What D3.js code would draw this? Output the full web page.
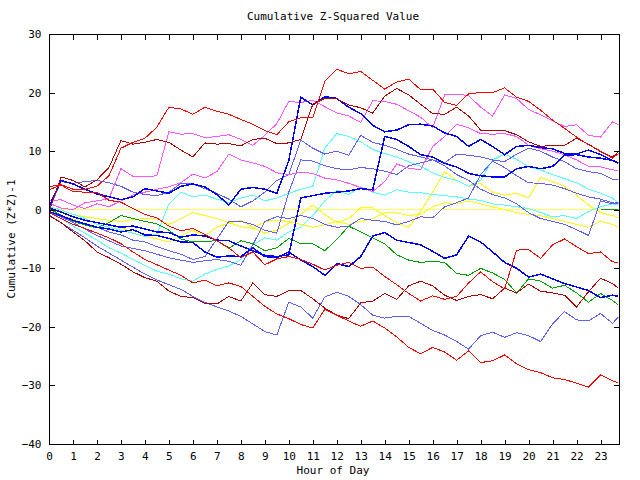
<!DOCTYPE html>
<html><head><meta charset="utf-8">
<script src="https://cdn.jsdelivr.net/npm/d3@7"></script>
<style>body{margin:0;background:#fff}text{font-family:"DejaVu Sans Mono",monospace;font-size:11px}</style>
</head><body><svg id="c" width="640" height="480"></svg>
<script>
const hours = [0,0.5,1,1.5,2,2.5,3,3.5,4,4.5,5,5.5,6,6.5,7,7.5,8,8.5,9,9.5,10,10.5,11,11.5,12,12.5,13,13.5,14,14.5,15,15.5,16,16.5,17,17.5,18,18.5,19,19.5,20,20.5,21,21.5,22,22.5,23,23.5,23.75];
const xTicks = d3.range(0,24);
const yTicks = [30,20,10,0,-10,-20,-30,-40];

const zeroLine = hours.map(()=>0);
const redTop = [3.9,4.3,3.5,3.5,4.0,5.8,10.5,11.5,12.2,14.1,17.5,17.2,16.3,17.5,16.8,16.3,15.4,14.6,13.5,12.8,15.0,15.7,15.7,21.9,24.0,23.2,23.6,22.1,20.6,21.8,22.3,20.5,20.6,18.3,17.8,19.8,20.0,20.0,20.8,19.2,18.5,17.0,15.3,13.9,12.4,11.1,10.0,8.8,9.6];
const darkRedTop = [-0.3,5.6,5.0,3.9,5.1,7.2,11.8,11.2,11.5,12.0,11.5,10.2,9.0,11.4,11.2,11.3,10.9,12.0,12.2,11.3,11.4,12.0,18.0,19.0,18.9,17.9,17.4,16.5,19.4,20.7,19.6,18.0,16.4,16.3,17.5,16.0,13.6,13.5,13.5,12.8,11.6,10.8,11.0,11.0,12.2,11.2,9.9,9.0,9.9];
const magentaTop = [1.1,0.3,0.0,1.2,1.5,1.9,7.0,5.7,5.6,5.8,13.3,12.9,13.0,12.3,12.5,12.8,12.0,11.0,12.7,14.7,18.5,18.3,18.7,17.6,16.5,16.0,14.9,18.6,18.5,18.0,16.9,15.8,14.0,19.6,19.7,19.5,17.5,16.0,19.6,19.0,17.1,16.2,15.2,14.2,14.5,12.7,12.4,15.0,14.5];
const magentaLow = [1.5,1.7,0.8,0.2,1.0,0.5,1.5,2.5,3.0,3.5,3.9,4.6,6.1,5.4,6.5,9.5,8.5,8.0,7.4,6.3,6.0,6.4,6.2,5.4,5.1,4.5,3.8,3.1,4.8,7.8,7.1,6.8,10.8,12.5,14.6,14.0,13.0,12.9,13.0,12.5,11.0,10.4,10.0,9.4,8.5,7.4,7.3,6.8,6.7];
const blueBig = [0.5,5.0,4.4,3.5,2.7,2.2,1.7,2.2,3.6,3.2,2.8,4.0,4.4,3.9,2.6,0.8,3.5,3.8,3.5,2.8,8.4,19.2,17.9,19.3,19.0,17.5,16.4,14.4,13.3,13.6,14.5,14.6,14.3,13.1,12.5,10.8,12.0,10.8,9.4,10.8,11.0,10.6,10.4,9.6,9.5,10.2,9.4,8.4,7.9];
const blue2 = [0.3,-0.4,-1.2,-1.8,-2.2,-2.6,-3.0,-2.8,-3.3,-3.8,-3.9,-4.7,-4.3,-4.5,-5.2,-5.3,-6.2,-7.0,-7.8,-8.0,-7.7,2.0,2.4,2.8,3.0,3.2,3.6,3.4,12.5,12.0,10.8,9.4,9.0,7.9,7.3,6.2,5.8,5.6,5.6,7.0,7.4,7.0,7.4,9.3,9.4,9.0,8.8,8.4,8.0];
const blue3 = [-0.3,-1.0,-1.8,-2.4,-3.0,-3.3,-3.8,-3.4,-4.3,-4.4,-4.9,-5.5,-5.6,-7.2,-8.1,-7.9,-8.0,-6.5,-8.0,-8.2,-7.2,-8.6,-9.7,-11.2,-9.2,-9.7,-8.0,-4.5,-3.9,-5.2,-5.6,-6.0,-7.1,-8.3,-7.7,-4.5,-5.5,-7.2,-9.0,-10.0,-11.5,-11.0,-11.8,-12.6,-13.2,-13.8,-15.0,-14.6,-14.8];
const redA = [3.4,4.2,3.1,3.0,3.0,1.6,1.3,0.2,-0.8,-1.4,-2.8,-3.6,-3.2,-4.2,-5.3,-6.5,-8.2,-7.2,-9.4,-8.4,-8.0,-8.5,-9.3,-10.3,-9.5,-9.0,-10.0,-9.8,-11.4,-12.8,-14.3,-15.6,-14.7,-15.3,-14.8,-12.5,-10.6,-12.3,-13.5,-6.9,-6.8,-8.3,-6.0,-5.0,-6.3,-7.5,-7.2,-8.9,-9.0];
const redB = [-0.5,-1.5,-2.5,-3.2,-4.0,-4.8,-5.8,-7.2,-8.5,-9.4,-10.3,-11.2,-12.5,-12.0,-13.0,-12.5,-13.1,-14.8,-16.5,-17.8,-18.6,-19.6,-20.2,-17.0,-18.0,-19.0,-19.9,-19.0,-20.2,-21.7,-23.5,-24.6,-23.5,-24.3,-25.7,-24.1,-26.1,-25.8,-24.8,-26.3,-27.3,-27.8,-28.7,-29.0,-29.6,-30.3,-28.2,-29.2,-29.6];
const darkRedLow = [-1.0,-2.2,-3.8,-5.3,-7.2,-8.2,-9.3,-10.6,-11.6,-12.2,-13.9,-14.8,-15.0,-16.0,-16.1,-14.8,-15.6,-12.5,-14.5,-14.8,-13.8,-13.8,-15.2,-16.8,-18.0,-18.6,-15.9,-15.6,-14.3,-15.3,-13.0,-12.2,-13.0,-14.6,-15.5,-14.8,-14.5,-15.2,-13.4,-14.2,-12.7,-13.9,-14.2,-14.6,-16.6,-14.0,-11.7,-12.6,-13.4];
const green = [0.2,-0.9,-1.9,-2.6,-3.1,-2.2,-1.0,-1.5,-2.0,-2.4,-3.5,-5.0,-5.5,-5.4,-5.3,-6.6,-5.3,-5.8,-7.0,-6.5,-4.9,-5.8,-5.8,-7.0,-5.1,-2.8,-3.8,-4.8,-5.8,-7.7,-8.6,-9.0,-8.8,-9.0,-10.9,-11.2,-10.0,-10.8,-11.9,-14.2,-11.8,-12.2,-13.4,-12.9,-14.2,-15.8,-14.3,-15.5,-16.3];
const greenEnd = [null,null,null,null,null,null,null,null,null,null,null,null,null,null,null,null,null,null,null,null,null,null,null,null,null,null,null,null,null,null,null,null,null,null,null,null,null,null,null,null,null,null,null,null,null,null,0,0,0];
const slateLow = [-0.9,-2.2,-3.5,-4.8,-6.2,-7.4,-8.6,-9.8,-11.0,-12.0,-12.8,-13.6,-14.8,-15.8,-16.6,-17.3,-18.2,-19.5,-20.8,-21.4,-15.8,-16.6,-18.5,-14.9,-14.1,-14.8,-16.2,-18.0,-18.5,-18.2,-18.2,-19.4,-20.6,-21.4,-22.5,-23.8,-21.5,-20.9,-21.8,-21.0,-21.5,-22.5,-19.5,-17.4,-18.8,-19.0,-17.7,-19.4,-18.3];
const slateTop = [0.0,4.8,4.5,4.8,5.0,4.6,4.0,3.0,2.6,2.4,3.0,4.5,4.4,3.6,2.8,1.8,0.5,1.5,3.0,5.0,6.0,11.9,10.5,9.5,10.0,9.3,12.7,11.5,11.0,10.3,9.5,9.0,8.5,8.0,9.5,9.3,9.0,8.5,8.2,9.5,10.5,10.0,9.0,8.2,7.0,6.5,6.2,5.2,5.1];
const slateMid = [-0.5,-1.2,-2.0,-2.6,-3.0,-3.8,-4.3,-5.2,-5.5,-6.3,-7.0,-7.6,-8.5,-8.0,-5.0,-2.0,-2.0,-2.5,-3.5,-4.0,3.0,8.5,8.3,7.5,7.0,6.8,7.2,7.0,6.6,6.0,7.5,8.0,8.5,7.5,6.0,5.0,3.5,2.6,2.0,1.0,-0.5,-1.5,-2.0,-2.5,-3.4,-4.4,1.5,1.0,1.3];
const slateB = [-0.3,-1.2,-2.2,-3.3,-4.4,-5.3,-6.2,-6.6,-7.0,-7.6,-8.2,-8.6,-9.0,-8.7,-8.5,-8.8,-9.5,-6.0,-2.0,-1.2,-1.5,-1.0,-1.5,-2.5,-3.0,-2.8,-1.5,-1.8,-2.0,-2.6,-2.0,-1.2,-1.4,0.5,1.2,2.0,6.0,8.3,7.2,5.8,4.6,4.5,4.2,3.6,2.8,2.2,1.8,1.2,1.0];
const cyanTop = [0.5,0.0,-0.8,-1.5,-2.5,-3.0,-3.5,-4.0,-4.6,-4.2,1.0,3.0,2.2,2.5,1.8,1.2,2.0,2.5,1.5,2.0,2.8,3.5,4.0,10.5,13.0,12.5,11.6,10.3,9.6,9.0,8.2,7.4,6.3,5.5,5.0,4.0,5.0,8.5,9.5,8.6,7.3,6.8,6.0,5.3,4.6,3.5,2.8,2.0,1.1];
const cyanLow = [-0.5,-1.5,-2.8,-4.0,-5.2,-6.5,-7.4,-8.5,-9.5,-10.5,-11.0,-11.8,-12.2,-11.0,-10.2,-9.6,-8.5,-6.0,-4.8,-5.2,-3.8,-3.0,-1.0,1.5,3.3,2.6,3.9,3.0,2.5,3.4,3.0,2.9,2.6,2.4,2.2,1.8,1.6,1.0,0.8,0.5,0.2,-0.5,-1.2,-1.0,-1.5,-0.3,0.5,1.0,0.8];
const yellowA = [0.0,-1.0,-1.5,-2.5,-3.0,-3.4,-3.0,-4.0,-4.5,-5.0,-5.5,-4.5,-3.5,-4.5,-3.0,-2.3,-1.8,-3.0,-4.0,-3.5,-2.3,-0.8,0.8,-0.8,-2.2,-1.5,0.3,0.3,-1.0,-2.2,-3.0,-0.3,3.0,6.5,5.0,4.0,4.5,3.0,2.5,2.8,2.0,5.5,4.8,4.0,2.5,0.8,-0.5,-1.0,-1.4];
const yellowB = [0.5,-0.2,-0.8,-1.2,-1.5,-1.8,-2.0,-1.7,-1.5,-1.5,-2.5,-1.5,-0.5,-1.0,-1.5,-2.2,-2.9,-3.2,-2.0,-1.8,-2.0,-2.5,-3.0,-2.6,-2.0,-2.5,-2.0,-1.5,-0.5,-0.5,-1.0,-0.8,0.5,1.2,1.0,1.5,1.0,0.5,0.0,-0.5,-0.8,-1.0,-1.5,-2.0,-2.5,-3.0,-2.0,-2.5,-3.0];

const series = [
  {v: zeroLine, c:"#ffff60", w:1},
  {v: yellowB, c:"#ffff00", w:1},
  {v: yellowA, c:"#ffff00", w:1},
  {v: cyanLow, c:"#55ffff", w:1},
  {v: cyanTop, c:"#55ffff", w:1},
  {v: slateB, c:"#6060ff", w:1},
  {v: slateMid, c:"#6060ff", w:1},
  {v: slateTop, c:"#6060ff", w:1},
  {v: slateLow, c:"#6060ff", w:1},
  {v: magentaLow, c:"#ff55ff", w:1},
  {v: magentaTop, c:"#ff55ff", w:1},
  {v: green, c:"#00a000", w:1},
  {v: greenEnd, c:"#00a000", w:1.5},
  {v: blue3, c:"#0000ff", w:1.5},
  {v: blue2, c:"#0000ff", w:1.5},
  {v: blueBig, c:"#0000ff", w:1.5},
  {v: darkRedLow, c:"#b00000", w:1},
  {v: redB, c:"#ff0000", w:1},
  {v: redA, c:"#ff0000", w:1},
  {v: darkRedTop, c:"#b00000", w:1},
  {v: redTop, c:"#ff0000", w:1}
];

const svg = d3.select("#c");
const L = 49, R = 618.5, T = 34, B = 444;
const x = d3.scaleLinear().domain([0, 23.75]).range([L, R]);
const y = d3.scaleLinear().domain([-40, 30]).range([B, T]);

const g = svg.append("g");
g.append("defs").append("clipPath").attr("id","clip").append("rect")
  .attr("x",L).attr("y",T).attr("width",R-L).attr("height",B-T);

const line = d3.line().defined(d=>d[1]!==null).x(d=>x(d[0])).y(d=>y(d[1]));
const lines = g.append("g").attr("clip-path","url(#clip)");
series.forEach(s=>{
  lines.append("path").attr("d", line(hours.map((h,i)=>[h,s.v[i]])))
    .attr("fill","none").attr("stroke",s.c).attr("stroke-width",s.w)
    .attr("shape-rendering","crispEdges");
});

const ax = svg.append("g").attr("stroke","#000").attr("fill","none").attr("shape-rendering","crispEdges");
ax.append("rect").attr("x",L+0.5).attr("y",T+0.5).attr("width",R-L).attr("height",B-T).attr("stroke-width",1);
const styleText = s=>s.selectAll("text").attr("font-size",10.5).attr("font-family","DejaVu Sans Mono, monospace").attr("fill","#000");
svg.append("g").attr("transform",`translate(0,${B+0.5})`).call(d3.axisBottom(x).tickValues(xTicks).tickSize(-5).tickPadding(8).tickFormat(d3.format("d")))
  .call(s=>{s.select(".domain").remove(); styleText(s);});
svg.append("g").attr("transform",`translate(0,${T+0.5})`).call(d3.axisTop(x).tickValues(xTicks).tickSize(-5).tickFormat(""))
  .call(s=>s.select(".domain").remove());
svg.append("g").attr("transform",`translate(${L+0.5},0)`).call(d3.axisLeft(y).tickValues(yTicks).tickSize(-5).tickPadding(8).tickFormat(d3.format("d")))
  .call(s=>{s.select(".domain").remove(); styleText(s);});
svg.append("g").attr("transform",`translate(${R+0.5},0)`).call(d3.axisRight(y).tickValues(yTicks).tickSize(-5).tickFormat(""))
  .call(s=>s.select(".domain").remove());
svg.selectAll(".tick line").attr("shape-rendering","crispEdges");

svg.append("text").attr("x",333).attr("y",20).attr("text-anchor","middle").attr("font-size",11).text("Cumulative Z-Squared Value");
svg.append("text").attr("x",333).attr("y",474).attr("text-anchor","middle").attr("font-size",11).text("Hour of Day");
svg.append("text").attr("transform","translate(15,239) rotate(-90)").attr("text-anchor","middle").attr("font-size",11).text("Cumulative (Z*Z)-1");
</script></body></html>
